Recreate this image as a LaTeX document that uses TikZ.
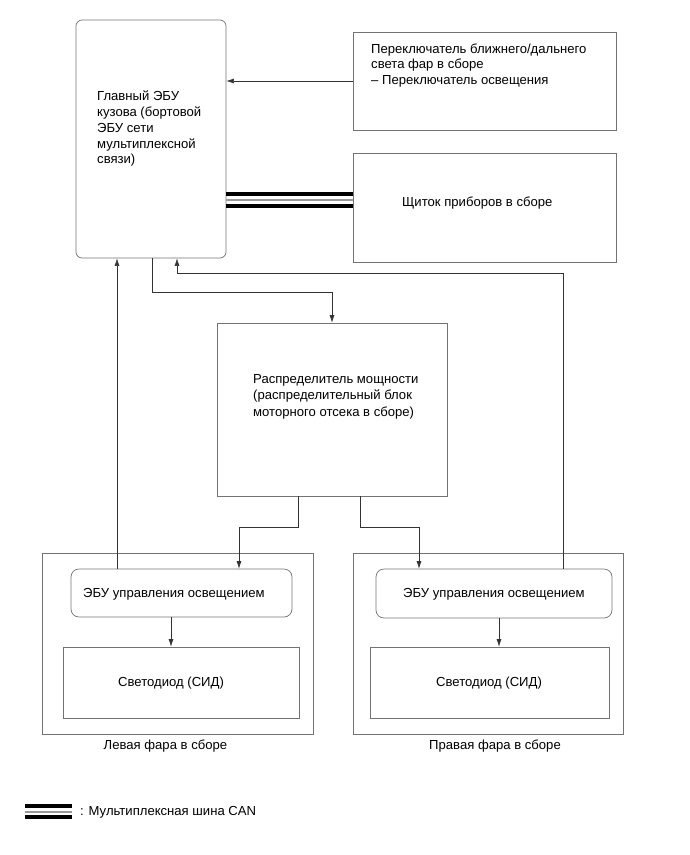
\documentclass[tikz,border=0pt]{standalone}
\usepackage{fontspec}
\setmainfont{Liberation Sans}
\usetikzlibrary{arrows.meta,calc}
\begin{document}
\begin{tikzpicture}[x=1pt,y=-1pt,
  box/.style={draw=black!55,line width=0.7pt,minimum width=#1,inner sep=0pt},
  txt/.style={font=\fontsize{13.1}{15.7}\selectfont,align=left,inner sep=0pt},
  arr/.style={draw=black!80,line width=0.6pt,-{Latex[length=7.5pt,width=5pt]}},
  canthick/.style={line width=4pt,black},
  canthin/.style={line width=2pt,black!40}]
\useasboundingbox (0,0) rectangle (690,855);
% boxes
\node[box=150pt,minimum height=238pt,rounded corners=6pt] (ecu) at (151,139) {};
\node[box=263pt,minimum height=98pt] (sw) at (484.5,81) {};
\node[box=263pt,minimum height=109pt] (ins) at (484.5,207.5) {};
\node[box=230pt,minimum height=173pt] (pd) at (332,409.5) {};
\node[box=271pt,minimum height=181pt] (lhl) at (177.5,643.5) {};
\node[box=221pt,minimum height=48pt,rounded corners=8pt] (lecu) at (181.5,593) {};
\node[box=236pt,minimum height=71pt] (lled) at (181,682.5) {};
\node[box=270pt,minimum height=181pt] (rhl) at (488,643.5) {};
\node[box=236pt,minimum height=49pt,rounded corners=8pt] (recu) at (494,593.5) {};
\node[box=239pt,minimum height=71pt] (rled) at (489.5,682.5) {};
% texts
\node[txt,anchor=north west] (tecu) at (97,91) {Главный ЭБУ\\кузова (бортовой\\ЭБУ сети\\мультиплексной\\связи)};
\node[txt,anchor=north west] (tsw) at (371,43.2) {Переключатель ближнего/дальнего\\света фар в сборе\\– Переключатель освещения};
\node[txt,anchor=base west] (tins) at (402,206.5) {Щиток приборов в сборе};
\node[txt,anchor=north west,font=\fontsize{13.1}{16.5}\selectfont] (tpd) at (253,373.9) {Распределитель мощности\\(распределительный блок\\моторного отсека в сборе)};
\node[txt,anchor=base west] (tlecu) at (83,597.3) {ЭБУ управления освещением};
\node[txt,anchor=base west] (trecu) at (403,597.3) {ЭБУ управления освещением};
\node[txt,anchor=base west] (tlled) at (118,686) {Светодиод (СИД)};
\node[txt,anchor=base west] (trled) at (436,686) {Светодиод (СИД)};
\node[txt,anchor=base west] (tlhl) at (103.5,749) {Левая фара в сборе};
\node[txt,anchor=base west] (trhl) at (429,749) {Правая фара в сборе};
% helper x positions
\coordinate (kL) at (117,0);
\coordinate (kE) at (152,0);
\coordinate (kR) at (177,0);
\coordinate (kRR) at (563,0);
\coordinate (kP1) at (298,0);
\coordinate (kP2) at (360,0);
\coordinate (kLa) at (239,0);
\coordinate (kRa) at (419,0);
\coordinate (kLd) at (171,0);
\coordinate (kRd) at (499,0);
% connectors
\draw[arr] (sw.west) -- (sw.west -| ecu.east);
\draw[canthick] ($(ecu.east)+(0,55.3)$) -- ($(ins.west |- ecu.east)+(0,55.3)$);
\draw[canthin] ($(ecu.east)+(0,61.3)$) -- ($(ins.west |- ecu.east)+(0,61.3)$);
\draw[canthick] ($(ecu.east)+(0,66.5)$) -- ($(ins.west |- ecu.east)+(0,66.5)$);
\draw[arr] (lecu.north -| kL) -- (ecu.south -| kL);
\draw[arr] (ecu.south -| kE) -- ++(0,34) -| (pd.north);
\draw[arr] (recu.north -| kRR) -- ++(0,-295) -| (ecu.south -| kR);
\draw[arr] (pd.south -| kP1) -- ++(0,31) -| (lecu.north -| kLa);
\draw[arr] (pd.south -| kP2) -- ++(0,31) -| (recu.north -| kRa);
\draw[arr] (lecu.south -| kLd) -- (lled.north -| kLd);
\draw[arr] (recu.south -| kRd) -- (rled.north -| kRd);
% legend
\coordinate (lg1) at (25,0);
\coordinate (lg2) at (72,0);
\draw[canthick] ($(lg1)+(0,806)$) -- ($(lg2)+(0,806)$);
\draw[canthin] ($(lg1)+(0,811.5)$) -- ($(lg2)+(0,811.5)$);
\draw[canthick] ($(lg1)+(0,817)$) -- ($(lg2)+(0,817)$);
\node[txt,anchor=base west] (tlg) at (80,815.5) {: Мультиплексная шина CAN};
\end{tikzpicture}
\end{document}
